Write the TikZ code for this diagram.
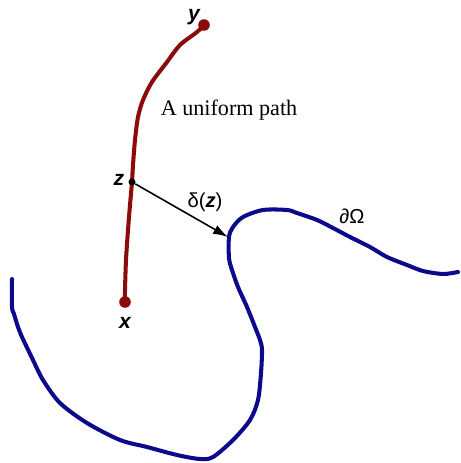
\documentclass[tikz,border=0pt]{standalone}
\usepackage{fontspec}
\setmainfont{Liberation Serif}
\setsansfont{Liberation Sans}
\usepackage{xcolor}
\usepackage{tikz}
\usetikzlibrary{arrows.meta, positioning}
\definecolor{pathred}{HTML}{8B0A0A}
\definecolor{bdryblue}{HTML}{0A0A8A}

\tikzset{
    bigdot/.style={circle, fill=pathred, inner sep=0pt, minimum size=6.6pt},
    smalldot/.style={circle, fill=black, inner sep=0pt, minimum size=4pt},
    ptlabel/.style={font=\fontsize{12}{14}\selectfont\sffamily\bfseries\itshape},
    sflabel/.style={font=\fontsize{11.5}{14}\selectfont\sffamily}
}

\begin{document}
\begin{tikzpicture}[x=0.02cm, y=-0.02cm]
    \useasboundingbox (0,0) rectangle (460,463);

    % Boundary of the domain
    \draw[bdryblue, line width=2.3pt, line cap=round, line join=round]
        plot[smooth, tension=0.5] coordinates {
        (12,279) (12,307) (14,314) (18,327) (22,337) (33,360) (43,380)
        (60,403) (87,423) (120,440) (147,447) (177,455) (200,459) (213,457)
        (233,440) (250,420) (258,400) (261,373) (262,350) (260,340) (255,327)
        (247,307) (238,287) (232,270) (229,258) (229,237) (233,227) (243,217)
        (263,210) (287,210) (297,213) (317,220) (333,228) (350,237) (370,247)
        (387,257) (407,265) (423,271) (443,274) (458,272)};
    \node[sflabel] (bdry) at (352,216) {∂Ω};

    % The uniform path from x to y
    \draw[pathred, line width=2.3pt, line cap=round]
        plot[smooth, tension=0.5] coordinates {
        (204,25) (197,32) (180,45) (167,62) (152,82) (143,100) (138,117)
        (135,140) (133,165) (132,182) (130,205) (128,230) (126,260) (125,290)
        (125,302)};
    \node[bigdot] (y) at (204,25) {};
    \node[bigdot] (x) at (125,302) {};
    \node[smalldot] (z) at (132,182) {};
    \node[ptlabel] (ylab) at (194,17) {y};
    \node[ptlabel] (xlab) at (125,323) {x};
    \node[ptlabel] (zlab) at (119,180) {z};
    \node[font=\fontsize{12.6}{15}\selectfont] (title) at (229,110) {A uniform path};

    % Distance to the boundary
    \coordinate (b) at (228,237);
    \draw[-{Latex[length=8.5pt, width=5.5pt]}, line width=0.9pt] (z) -- (b);
    \node[sflabel] (dist) at (205,202) {δ(\textbf{\textit{z}})};
\end{tikzpicture}
\end{document}
